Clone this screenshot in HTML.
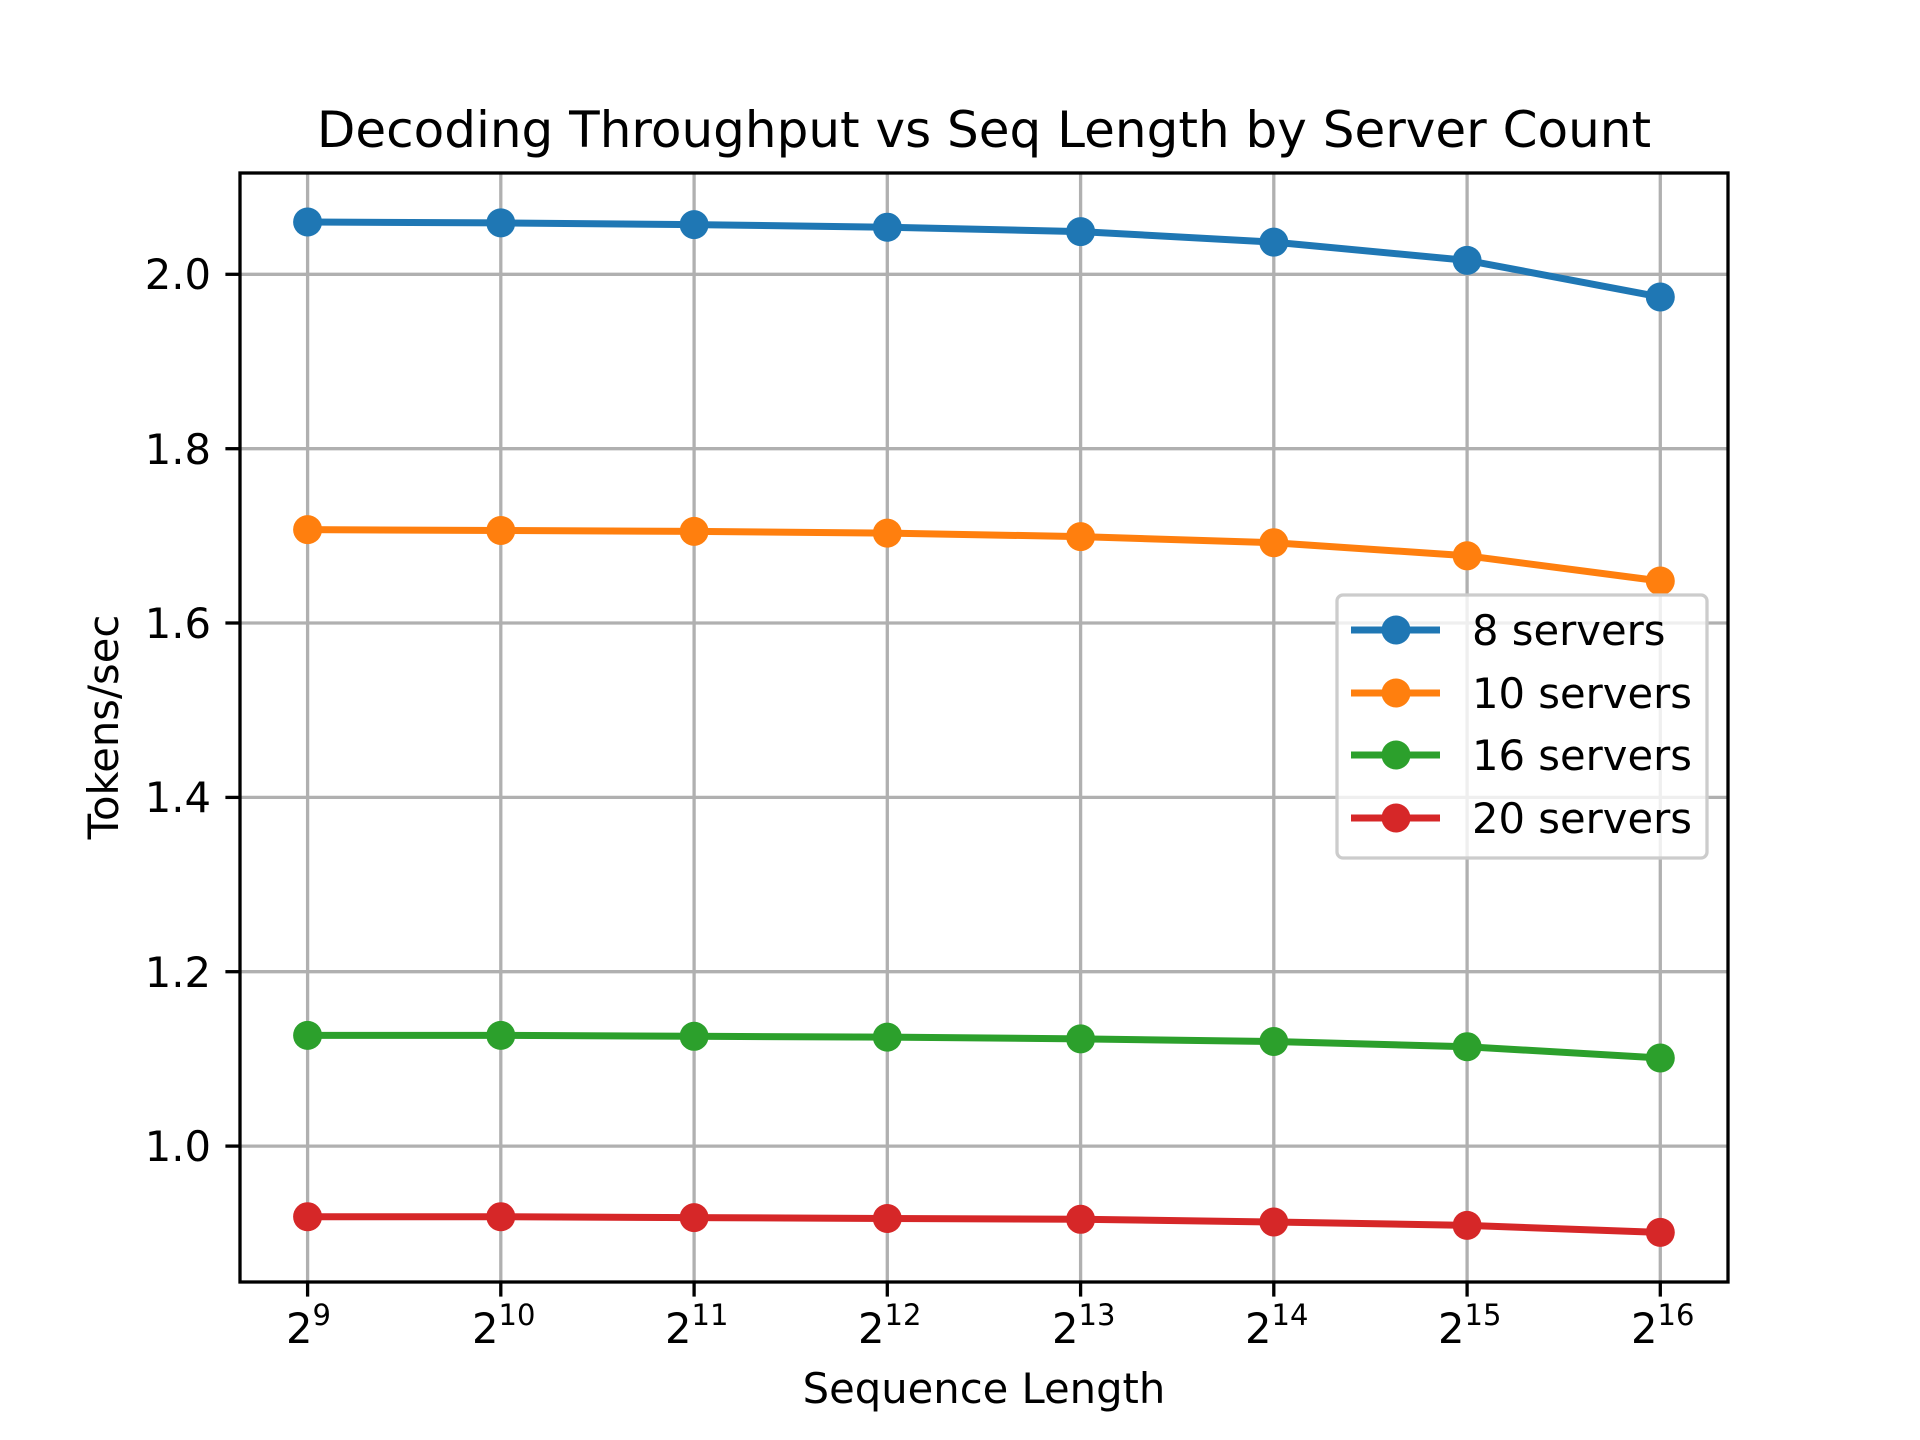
<!DOCTYPE html>
<html><head><meta charset="utf-8"><style>html,body{margin:0;padding:0;background:#fff}svg{display:block}text{font-family:"DejaVu Sans","Liberation Sans",sans-serif;fill:#000}</style></head>
<body>
<svg width="1920" height="1440" viewBox="0 0 1920 1440" xmlns="http://www.w3.org/2000/svg">
<rect width="1920" height="1440" fill="#fff"/>
<g stroke="#b0b0b0" stroke-width="3.3">
<line x1="307.6" y1="173" x2="307.6" y2="1282"/>
<line x1="500.8" y1="173" x2="500.8" y2="1282"/>
<line x1="694.1" y1="173" x2="694.1" y2="1282"/>
<line x1="887.3" y1="173" x2="887.3" y2="1282"/>
<line x1="1080.6" y1="173" x2="1080.6" y2="1282"/>
<line x1="1273.8" y1="173" x2="1273.8" y2="1282"/>
<line x1="1467.1" y1="173" x2="1467.1" y2="1282"/>
<line x1="1660.3" y1="173" x2="1660.3" y2="1282"/>
<line x1="240" y1="1146.1" x2="1728" y2="1146.1"/>
<line x1="240" y1="971.7" x2="1728" y2="971.7"/>
<line x1="240" y1="797.4" x2="1728" y2="797.4"/>
<line x1="240" y1="623" x2="1728" y2="623"/>
<line x1="240" y1="448.7" x2="1728" y2="448.7"/>
<line x1="240" y1="274.3" x2="1728" y2="274.3"/>
</g>
<g stroke-width="7" fill="none" stroke-linejoin="round">
<polyline stroke="#1f77b4" points="307.6,222.0 500.8,222.9 694.1,224.6 887.3,227.2 1080.6,231.6 1273.8,242.1 1467.1,260.4 1660.3,297.0"/>
<polyline stroke="#ff7f0e" points="307.6,529.6 500.8,530.5 694.1,531.4 887.3,533.1 1080.6,536.6 1273.8,542.7 1467.1,555.8 1660.3,581.0"/>
<polyline stroke="#2ca02c" points="307.6,1035.4 500.8,1035.4 694.1,1036.3 887.3,1037.1 1080.6,1038.9 1273.8,1041.5 1467.1,1046.7 1660.3,1058.0"/>
<polyline stroke="#d62728" points="307.6,1216.7 500.8,1216.7 694.1,1217.6 887.3,1218.5 1080.6,1219.3 1273.8,1222.0 1467.1,1225.4 1660.3,1232.4"/>
</g>
<g fill="#1f77b4"><circle cx="307.6" cy="222.0" r="14.5"/><circle cx="500.8" cy="222.9" r="14.5"/><circle cx="694.1" cy="224.6" r="14.5"/><circle cx="887.3" cy="227.2" r="14.5"/><circle cx="1080.6" cy="231.6" r="14.5"/><circle cx="1273.8" cy="242.1" r="14.5"/><circle cx="1467.1" cy="260.4" r="14.5"/><circle cx="1660.3" cy="297.0" r="14.5"/></g>
<g fill="#ff7f0e"><circle cx="307.6" cy="529.6" r="14.5"/><circle cx="500.8" cy="530.5" r="14.5"/><circle cx="694.1" cy="531.4" r="14.5"/><circle cx="887.3" cy="533.1" r="14.5"/><circle cx="1080.6" cy="536.6" r="14.5"/><circle cx="1273.8" cy="542.7" r="14.5"/><circle cx="1467.1" cy="555.8" r="14.5"/><circle cx="1660.3" cy="581.0" r="14.5"/></g>
<g fill="#2ca02c"><circle cx="307.6" cy="1035.4" r="14.5"/><circle cx="500.8" cy="1035.4" r="14.5"/><circle cx="694.1" cy="1036.3" r="14.5"/><circle cx="887.3" cy="1037.1" r="14.5"/><circle cx="1080.6" cy="1038.9" r="14.5"/><circle cx="1273.8" cy="1041.5" r="14.5"/><circle cx="1467.1" cy="1046.7" r="14.5"/><circle cx="1660.3" cy="1058.0" r="14.5"/></g>
<g fill="#d62728"><circle cx="307.6" cy="1216.7" r="14.5"/><circle cx="500.8" cy="1216.7" r="14.5"/><circle cx="694.1" cy="1217.6" r="14.5"/><circle cx="887.3" cy="1218.5" r="14.5"/><circle cx="1080.6" cy="1219.3" r="14.5"/><circle cx="1273.8" cy="1222.0" r="14.5"/><circle cx="1467.1" cy="1225.4" r="14.5"/><circle cx="1660.3" cy="1232.4" r="14.5"/></g>
<rect x="240" y="173" width="1488" height="1109" fill="none" stroke="#000" stroke-width="3.3"/>
<g stroke="#000" stroke-width="3.3">
<line x1="307.6" y1="1282" x2="307.6" y2="1296.6"/><line x1="500.8" y1="1282" x2="500.8" y2="1296.6"/><line x1="694.1" y1="1282" x2="694.1" y2="1296.6"/><line x1="887.3" y1="1282" x2="887.3" y2="1296.6"/><line x1="1080.6" y1="1282" x2="1080.6" y2="1296.6"/><line x1="1273.8" y1="1282" x2="1273.8" y2="1296.6"/><line x1="1467.1" y1="1282" x2="1467.1" y2="1296.6"/><line x1="1660.3" y1="1282" x2="1660.3" y2="1296.6"/>
<line x1="225.4" y1="1146.1" x2="240" y2="1146.1"/><line x1="225.4" y1="971.7" x2="240" y2="971.7"/><line x1="225.4" y1="797.4" x2="240" y2="797.4"/><line x1="225.4" y1="623" x2="240" y2="623"/><line x1="225.4" y1="448.7" x2="240" y2="448.7"/><line x1="225.4" y1="274.3" x2="240" y2="274.3"/>
</g>
<g font-size="41.7" text-anchor="end">
<text x="211" y="1161">1.0</text><text x="211" y="987">1.2</text><text x="211" y="812">1.4</text><text x="211" y="638">1.6</text><text x="211" y="464">1.8</text><text x="211" y="289">2.0</text>
</g>
<g font-size="41.7">
<text x="286" y="1343">2<tspan font-size="29" dy="-18">9</tspan></text>
<text x="472" y="1343">2<tspan font-size="29" dy="-18">10</tspan></text>
<text x="665" y="1343">2<tspan font-size="29" dy="-18">11</tspan></text>
<text x="858" y="1343">2<tspan font-size="29" dy="-18">12</tspan></text>
<text x="1052" y="1343">2<tspan font-size="29" dy="-18">13</tspan></text>
<text x="1245" y="1343">2<tspan font-size="29" dy="-18">14</tspan></text>
<text x="1438" y="1343">2<tspan font-size="29" dy="-18">15</tspan></text>
<text x="1631" y="1343">2<tspan font-size="29" dy="-18">16</tspan></text>
</g>
<text x="984" y="1403" font-size="41.7" text-anchor="middle">Sequence Length</text>
<text x="0" y="0" font-size="41.7" text-anchor="middle" transform="translate(118,727) rotate(-90)">Tokens/sec</text>
<text x="984" y="147" font-size="50" text-anchor="middle">Decoding Throughput vs Seq Length by Server Count</text>
<rect x="1337" y="595" width="370" height="263" rx="6" fill="#fff" fill-opacity="0.8" stroke="#cccccc" stroke-width="3.3"/>
<g stroke-width="7">
<line x1="1351" y1="630" x2="1440" y2="630" stroke="#1f77b4"/><circle cx="1396" cy="630" r="14.5" fill="#1f77b4"/>
<line x1="1351" y1="693" x2="1440" y2="693" stroke="#ff7f0e"/><circle cx="1396" cy="693" r="14.5" fill="#ff7f0e"/>
<line x1="1351" y1="755" x2="1440" y2="755" stroke="#2ca02c"/><circle cx="1396" cy="755" r="14.5" fill="#2ca02c"/>
<line x1="1351" y1="818" x2="1440" y2="818" stroke="#d62728"/><circle cx="1396" cy="818" r="14.5" fill="#d62728"/>
</g>
<g font-size="41.7">
<text x="1472" y="645">8 servers</text>
<text x="1472" y="708">10 servers</text>
<text x="1472" y="770">16 servers</text>
<text x="1472" y="833">20 servers</text>
</g>
</svg>
</body></html>
